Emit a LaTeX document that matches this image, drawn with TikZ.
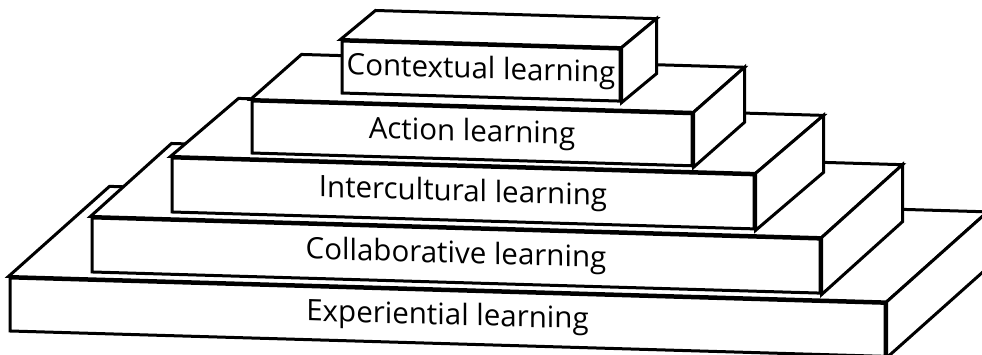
\documentclass[tikz,border=0pt]{standalone}
\usepackage{fontspec}
\setmainfont{Open Sans}
\usetikzlibrary{calc}
\tikzstyle{front} = [rectangle, draw, fill=white, line width=3pt, inner sep=0pt, transform shape, font=\fontsize{29.5}{32}\selectfont]
\tikzstyle{face} = [draw, fill=white, line width=3pt]

\begin{document}
\begin{tikzpicture}[x=1pt, y=1pt]
  \useasboundingbox (0,0) rectangle (982,354);
  \clip (0,0) rectangle (982,354);
  \begin{scope}[yslant=-0.029]
    % Bottom slab
    \node [front, minimum width=875pt, minimum height=53pt] (exp) at (447.5,49.8) {Experiential learning};
    \path [face] (exp.north west) -- ($(exp.north west)+(101,93)$) -- ($(exp.north east)+(101,93)$) -- (exp.north east) -- cycle;
    \path [face] (exp.north east) -- ($(exp.north east)+(101,93)$) -- ($(exp.south east)+(101,93)$) -- (exp.south east) -- cycle;

    % Second slab
    \node [front, minimum width=728pt, minimum height=54pt] (collab) at (456,111.7) {Collaborative learning};
    \path [face] (collab.north west) -- ($(collab.north west)+(81,75.3)$) -- ($(collab.north east)+(81,75.3)$) -- (collab.north east) -- cycle;
    \path [face] (collab.north east) -- ($(collab.north east)+(81,75.3)$) -- ($(collab.south east)+(81,75.3)$) -- (collab.south east) -- cycle;

    % Third slab
    \node [front, minimum width=582pt, minimum height=54pt] (inter) at (463,174) {Intercultural learning};
    \path [face] (inter.north west) -- ($(inter.north west)+(68,60)$) -- ($(inter.north east)+(68,60)$) -- (inter.north east) -- cycle;
    \path [face] (inter.north east) -- ($(inter.north east)+(68,60)$) -- ($(inter.south east)+(68,60)$) -- (inter.south east) -- cycle;

    % Fourth slab
    \node [front, minimum width=440pt, minimum height=52pt] (action) at (472,234.3) {Action learning};
    \path [face] (action.north west) -- ($(action.north west)+(51,46.5)$) -- ($(action.north east)+(51,46.5)$) -- (action.north east) -- cycle;
    \path [face] (action.north east) -- ($(action.north east)+(51,46.5)$) -- ($(action.south east)+(51,46.5)$) -- (action.south east) -- cycle;

    % Top slab
    \node [front, minimum width=278pt, minimum height=52pt] (context) at (481,296.9) {Contextual learning};
    \path [face] (context.north west) -- ($(context.north west)+(35,30)$) -- ($(context.north east)+(35,30)$) -- (context.north east) -- cycle;
    \path [face] (context.north east) -- ($(context.north east)+(35,30)$) -- ($(context.south east)+(35,30)$) -- (context.south east) -- cycle;
  \end{scope}
\end{tikzpicture}
\end{document}
